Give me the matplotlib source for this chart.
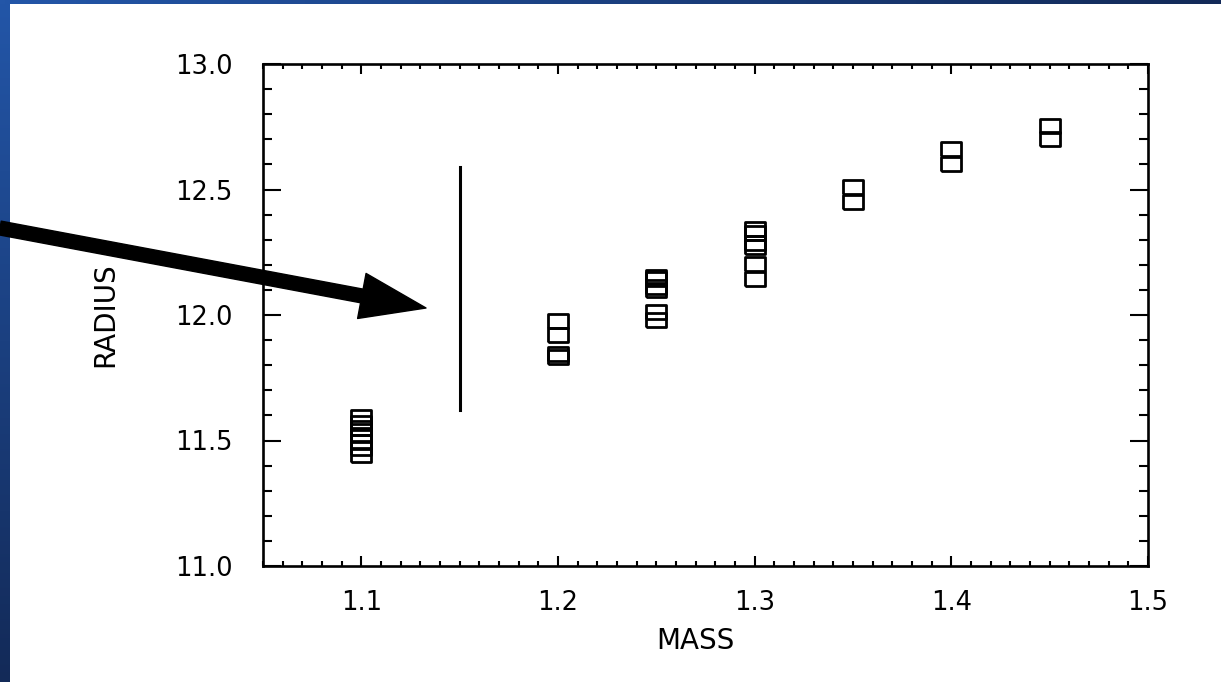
import numpy as np
import matplotlib
matplotlib.use('Agg')
import matplotlib.pyplot as plt
from matplotlib.colors import LinearSegmentedColormap
from matplotlib.markers import MarkerStyle
from matplotlib.ticker import MultipleLocator

plt.rcParams['font.family'] = ['DejaVu Sans']

# radius values of the models at each mass
masses = [1.10, 1.20, 1.25, 1.30, 1.35, 1.40, 1.45]
radius_110 = [11.595, 11.568, 11.548, 11.520, 11.496, 11.472, 11.442]
radius_120 = [11.976, 11.922, 11.845, 11.833]
radius_125 = [12.153, 12.143, 12.112, 12.098, 12.012, 11.980]
radius_130 = [12.344, 12.327, 12.288, 12.270, 12.203, 12.143]
radius_135 = [12.510, 12.449]
radius_140 = [12.663, 12.600]
radius_145 = [12.753, 12.701]
radii = [radius_110, radius_120, radius_125, radius_130,
         radius_135, radius_140, radius_145]

# vertical bar
bar_x = 1.15
bar_y = [11.62, 12.59]

W, H = 1221, 682
fig = plt.figure(figsize=(W / 100, H / 100), dpi=100)
fig.patch.set_facecolor('white')

# blue slide border
cmap = LinearSegmentedColormap.from_list('slide', ['#2356a8', '#132a58'])
side = fig.add_axes([0, 0, 10 / W, 1], zorder=0)
side.imshow(np.linspace(0, 1, 256).reshape(-1, 1), aspect='auto', cmap=cmap)
side.axis('off')
top = fig.add_axes([0, 1 - 4 / H, 1, 4 / H], zorder=0)
top.imshow(np.linspace(0, 0.15, 256).reshape(1, -1), aspect='auto', cmap=cmap)
top.axis('off')

ax = fig.add_axes([263 / W, 116 / H, 885 / W, 502 / H], zorder=1)

box = MarkerStyle([(-1, -0.66), (1, -0.66), (1, 0.66), (-1, 0.66), (-1, -0.66)],
                  joinstyle='miter')
for m, r in zip(masses, radii):
    ax.plot([m] * len(r), r, linestyle='none', marker=box, markersize=14.3,
            markerfacecolor='none', markeredgecolor='black', markeredgewidth=2.0)

ax.plot([bar_x, bar_x], bar_y, color='black', linewidth=2.2)

ax.set_xlim(1.05, 1.5)
ax.set_ylim(11.0, 13.0)
ax.xaxis.set_major_locator(MultipleLocator(0.1))
ax.xaxis.set_minor_locator(MultipleLocator(0.01))
ax.yaxis.set_major_locator(MultipleLocator(0.5))
ax.yaxis.set_minor_locator(MultipleLocator(0.1))
ax.xaxis.set_major_formatter(lambda v, p: '%.1f' % v)
ax.yaxis.set_major_formatter(lambda v, p: '%.1f' % v)

for s in ax.spines.values():
    s.set_linewidth(1.9)
ax.tick_params(axis='both', which='both', direction='in', top=True, right=True,
               width=1.5, labelsize=18.5)
ax.tick_params(axis='x', which='major', length=7.2, pad=17)
ax.tick_params(axis='x', which='minor', length=3.6)
ax.tick_params(axis='y', which='major', length=13, pad=22)
ax.tick_params(axis='y', which='minor', length=6.5)

ax.set_xlabel('MASS', fontsize=20, va='center')
ax.xaxis.set_label_coords(0.488, -0.149)
ax.set_ylabel('RADIUS', fontsize=20, va='center')
ax.yaxis.set_label_coords(-0.178, 0.5)

ax.annotate('', xy=(426, H - 308), xycoords='figure pixels',
            xytext=(0, H - 228), textcoords='figure pixels',
            arrowprops=dict(arrowstyle='simple,head_length=4.7,head_width=3.3,tail_width=1.0',
                            color='black', shrinkA=0, shrinkB=0, mutation_scale=10),
            annotation_clip=False)

fig.savefig('out.png', dpi=100)
